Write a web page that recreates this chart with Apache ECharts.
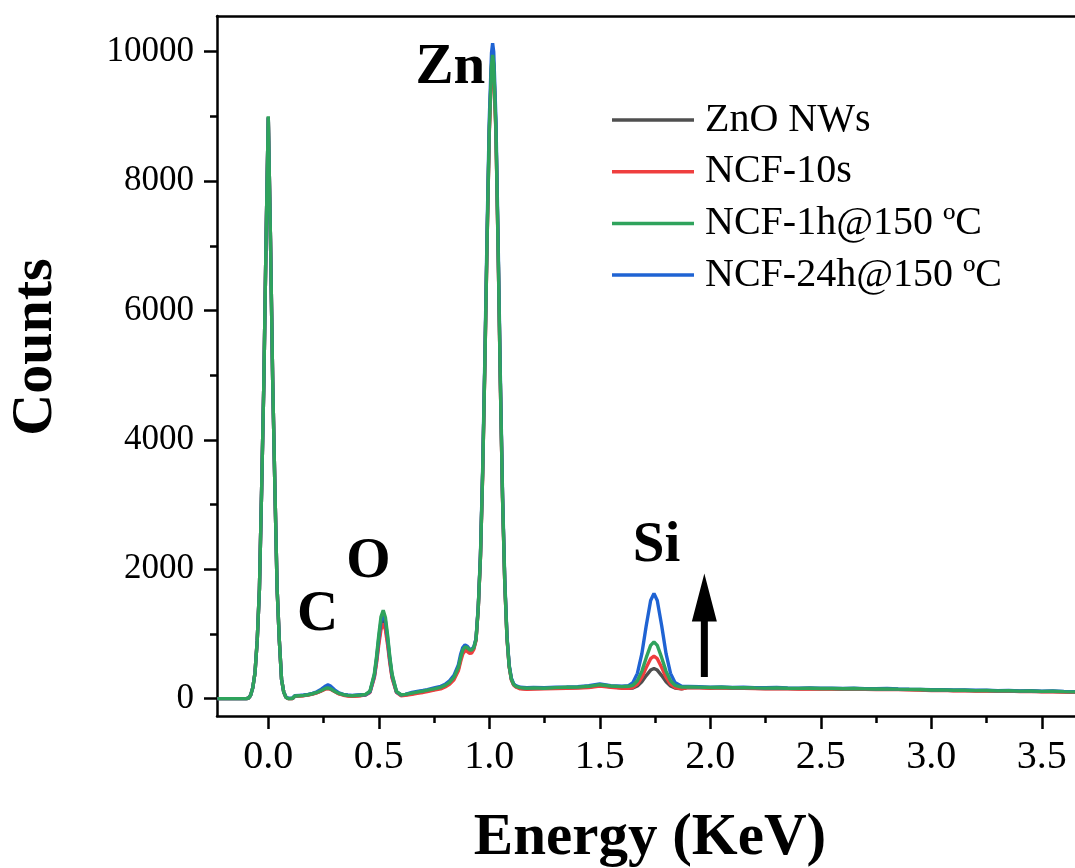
<!DOCTYPE html>
<html>
<head>
<meta charset="utf-8">
<script src="https://cdn.jsdelivr.net/npm/echarts@6/dist/echarts.min.js"></script>
<style>
html,body{margin:0;padding:0;background:#fff;}
#chart{width:1075px;height:868px;}
</style>
</head>
<body>
<div id="chart"></div>
<script>
// ---- data (energy in keV, counts) ----
const energy = [
  -0.23, -0.2, -0.15, -0.1, -0.09, -0.08, -0.07, -0.06, -0.05, -0.04, -0.03, -0.02, -0.01,
  0, 0.01, 0.02, 0.03, 0.04, 0.05, 0.06, 0.07, 0.08, 0.09, 0.1, 0.11,
  0.12, 0.14, 0.16, 0.18, 0.2, 0.22, 0.24, 0.26, 0.27, 0.28, 0.3, 0.32, 0.34, 0.36, 0.38, 0.4, 0.42,
  0.44, 0.46, 0.48, 0.49, 0.5, 0.51, 0.52, 0.53, 0.54, 0.55, 0.56, 0.58, 0.6, 0.62,
  0.65, 0.68, 0.7, 0.72, 0.75, 0.78, 0.8, 0.82, 0.84, 0.86, 0.87, 0.88, 0.89, 0.9, 0.91, 0.92, 0.93, 0.94,
  0.95, 0.96, 0.97, 0.98, 0.99, 1.0, 1.01, 1.015, 1.02, 1.03, 1.04, 1.05, 1.06, 1.07, 1.08, 1.09, 1.1, 1.11, 1.12,
  1.14, 1.17, 1.2, 1.25, 1.3, 1.35, 1.4, 1.45, 1.5, 1.55, 1.6, 1.63,
  1.65, 1.67, 1.69, 1.71, 1.73, 1.745, 1.76, 1.78, 1.8, 1.82, 1.84, 1.87,
  1.9, 1.95, 2.0, 2.05, 2.1, 2.15, 2.2, 2.25, 2.3, 2.35, 2.4, 2.45, 2.5, 2.55, 2.6, 2.65, 2.7, 2.75, 2.8,
  2.85, 2.9, 2.95, 3.0, 3.05, 3.1, 3.15, 3.2, 3.25, 3.3, 3.35, 3.4, 3.45, 3.5, 3.55, 3.6, 3.65, 3.7
];
const znoNWs = [
  0, 0, 0, 0, 5, 50, 170, 400, 900, 1700, 3250, 4900, 7100,
  8990, 7100, 4900, 3250, 1700, 900, 300, 100, 20, 0, 0, 0,
  38, 42, 48, 58, 72, 92, 120, 155, 160, 152, 112, 76, 56, 45, 40, 44, 50,
  58, 100, 345, 590, 885, 1135, 1230, 1130, 880, 585, 340, 100, 55, 60,
  75, 95, 105, 120, 140, 165, 195, 240, 315, 460, 610, 730, 780, 770, 735, 735, 780, 910,
  1395, 2190, 3480, 5180, 7070, 8770, 9770, 9920, 9790, 8770, 6930, 4880, 3090, 1790, 945, 495, 295, 215, 185,
  160, 152, 155, 158, 162, 165, 170, 180, 205, 182, 165, 160,
  164, 195, 261, 356, 441, 465, 441, 356, 261, 195, 164, 151,
  175, 170, 166, 168, 162, 165, 160, 156, 160, 154, 152, 156, 150, 152, 148, 150, 146, 143, 147,
  142, 138, 136, 128, 131, 124, 126, 120, 122, 116, 118, 112, 114, 108, 110, 104, 100, 98
];
const ncf10s = [
  0, 0, 0, 0, 5, 50, 170, 400, 900, 1700, 3250, 4900, 7100,
  8970, 7100, 4900, 3250, 1700, 900, 300, 100, 20, 0, 0, 0,
  35, 40, 45, 55, 70, 90, 118, 150, 155, 148, 108, 72, 52, 40, 35, 38, 45,
  55, 95, 325, 555, 835, 1070, 1160, 1065, 830, 550, 320, 95, 45, 50,
  65, 85, 95, 110, 130, 150, 180, 220, 290, 430, 570, 690, 740, 730, 700, 705, 760, 900,
  1390, 2180, 3470, 5160, 7050, 8740, 9730, 9880, 9750, 8740, 6900, 4860, 3080, 1780, 940, 490, 290, 210, 180,
  150, 145, 148, 150, 155, 160, 162, 172, 195, 175, 160, 158,
  172, 222, 327, 480, 617, 655, 617, 480, 327, 222, 172, 152,
  170, 166, 160, 165, 158, 161, 155, 150, 156, 150, 149, 152, 146, 149, 143, 147, 142, 139, 143,
  138, 135, 132, 125, 128, 121, 123, 117, 119, 113, 115, 109, 111, 105, 107, 101, 97, 95
];
const ncf1h150 = [
  0, 0, 0, 0, 5, 50, 170, 400, 900, 1700, 3250, 4900, 7100,
  9000, 7100, 4900, 3250, 1700, 900, 300, 100, 20, 0, 0, 5,
  40, 45, 50, 60, 75, 95, 125, 160, 165, 155, 115, 80, 60, 50, 45, 50, 55,
  65, 115, 385, 655, 985, 1265, 1365, 1255, 975, 645, 380, 110, 60, 65,
  85, 105, 115, 130, 150, 175, 205, 250, 330, 480, 630, 750, 800, 790, 755, 750, 790, 920,
  1400, 2200, 3500, 5200, 7100, 8800, 9800, 9950, 9820, 8800, 6950, 4900, 3100, 1800, 950, 500, 300, 220, 190,
  170, 160, 165, 160, 170, 175, 178, 190, 215, 195, 185, 190,
  206, 275, 421, 633, 822, 875, 822, 633, 421, 275, 206, 178,
  182, 178, 172, 175, 168, 170, 165, 162, 166, 160, 158, 161, 155, 157, 152, 155, 150, 148, 151,
  146, 142, 140, 132, 135, 128, 130, 124, 126, 120, 122, 116, 118, 112, 114, 108, 104, 102
];
const ncf24h150 = [
  0, 0, 0, 0, 5, 50, 170, 400, 900, 1700, 3250, 4900, 7100,
  8980, 7100, 4900, 3250, 1700, 900, 300, 100, 25, 5, 5, 10,
  45, 50, 55, 65, 82, 105, 145, 195, 212, 198, 135, 88, 65, 55, 50, 55, 60,
  60, 105, 360, 620, 935, 1200, 1300, 1195, 930, 615, 360, 105, 60, 65,
  95, 115, 125, 140, 165, 190, 220, 275, 360, 520, 680, 790, 830, 810, 770, 760, 800, 930,
  1420, 2230, 3560, 5290, 7230, 8960, 9980, 10130, 10000, 8960, 7070, 4990, 3160, 1840, 975, 520, 315, 230, 200,
  175, 168, 172, 170, 178, 180, 185, 198, 225, 200, 190, 200,
  248, 390, 691, 1127, 1517, 1625, 1517, 1127, 691, 390, 248, 191,
  188, 183, 178, 180, 172, 176, 170, 167, 171, 165, 162, 166, 160, 161, 156, 159, 154, 153, 155,
  150, 146, 143, 136, 139, 132, 133, 128, 130, 124, 125, 120, 121, 116, 117, 112, 108, 105
];
const seriesNames = ['ZnO NWs', 'NCF-10s', 'NCF-1h@150 \u00BAC', 'NCF-24h@150 \u00BAC'];
const xTicks = [0, 0.5, 1.0, 1.5, 2.0, 2.5, 3.0, 3.5];
const xMinorTicks = [0.25, 0.75, 1.25, 1.75, 2.25, 2.75, 3.25];
const yTicks = [0, 2000, 4000, 6000, 8000, 10000];
const yMinorTicks = [1000, 3000, 5000, 7000, 9000];
const peakLabels = ['C', 'O', 'Zn', 'Si'];
const peakLabelPos = [[0.223, 1290], [0.453, 2100], [0.824, 9750], [1.757, 2360]];
const arrowFrom = [1.973, 334];
const arrowTo = [1.973, 1933];

// ---- styling ----
const FONT = '"Liberation Serif", "Times New Roman", serif';
const colors = ['#4f4f4f', '#ef3e3e', '#2fa35c', '#1f63d3'];
const X_MIN = -0.232, X_MAX = 3.65, Y_MIN = -269, Y_MAX = 10552;

const chart = echarts.init(document.getElementById('chart'), null, {renderer: 'canvas'});

function pairs(arr) { return energy.map((e, i) => [e, arr[i]]); }
const allValues = [znoNWs, ncf10s, ncf1h150, ncf24h150];
const zOrder = [1, 2, 4, 3];

const axisLineStyle = {color: '#000', width: 2.5};
const baseX = {type: 'value', min: X_MIN, max: X_MAX, splitLine: {show: false}};
const baseY = {type: 'value', min: Y_MIN, max: Y_MAX, splitLine: {show: false}};

const option = {
  backgroundColor: '#fff',
  animation: false,
  grid: {left: 217, top: 16, right: 0, bottom: 152, containLabel: false},
  legend: {
    orient: 'vertical', left: 612, top: 100, padding: 0,
    data: seriesNames,
    icon: 'rect', itemWidth: 82, itemHeight: 3.5, itemGap: 11.7,
    textStyle: {fontFamily: FONT, fontSize: 40, color: '#000', lineHeight: 40, padding: [0, 0, 0, 6]}
  },
  xAxis: [
    Object.assign({}, baseX, {
      position: 'bottom',
      axisLine: {show: true, onZero: false, lineStyle: axisLineStyle},
      axisTick: {show: true, customValues: xTicks, length: 13, lineStyle: {color: '#000', width: 2.5}},
      axisLabel: {show: true, customValues: xTicks, margin: 21, fontFamily: FONT, fontSize: 40, color: '#000',
        formatter: v => Number(v).toFixed(1)}
    }),
    Object.assign({}, baseX, {
      position: 'bottom',
      axisLine: {show: false, onZero: false},
      axisTick: {show: true, customValues: xMinorTicks, length: 7, lineStyle: {color: '#000', width: 2.5}},
      axisLabel: {show: false}
    }),
    Object.assign({}, baseX, {
      position: 'top',
      axisLine: {show: true, onZero: false, lineStyle: axisLineStyle},
      axisTick: {show: false}, axisLabel: {show: false}
    })
  ],
  yAxis: [
    Object.assign({}, baseY, {
      position: 'left',
      axisLine: {show: true, onZero: false, lineStyle: axisLineStyle},
      axisTick: {show: true, customValues: yTicks, length: 13, lineStyle: {color: '#000', width: 2.5}},
      axisLabel: {show: true, customValues: yTicks, margin: 23, fontFamily: FONT, fontSize: 35, color: '#000',
        formatter: v => String(v)}
    }),
    Object.assign({}, baseY, {
      position: 'left',
      axisLine: {show: false, onZero: false},
      axisTick: {show: true, customValues: yMinorTicks, length: 7, lineStyle: {color: '#000', width: 2.5}},
      axisLabel: {show: false}
    })
  ],
  series: seriesNames.map((name, k) => ({
    name: name,
    type: 'line',
    xAxisIndex: 0, yAxisIndex: 0,
    data: pairs(allValues[k]),
    symbol: 'none', showSymbol: false,
    color: colors[k],
    lineStyle: {color: colors[k], width: 3.4},
    z: 2 + zOrder[k],
    clip: true
  }))
};
chart.setOption(option);

// ---- annotations placed in data coordinates ----
const toPx = p => chart.convertToPixel({xAxisIndex: 0, yAxisIndex: 0}, p);
const graphics = [];
peakLabels.forEach((t, i) => {
  const p = toPx(peakLabelPos[i]);
  graphics.push({
    type: 'text', x: p[0], y: p[1], z: 100,
    style: {text: t, fill: '#000', font: 'bold 57px ' + FONT, textAlign: 'center', textVerticalAlign: 'middle'}
  });
});
const a0 = toPx(arrowFrom), a1 = toPx(arrowTo);
const headLen = 48, headHalf = 12.5, shaftHalf = 3.5;
graphics.push({
  type: 'polygon', z: 100,
  shape: {points: [
    [a1[0], a1[1]],
    [a1[0] + headHalf, a1[1] + headLen],
    [a1[0] + shaftHalf, a1[1] + headLen],
    [a0[0] + shaftHalf, a0[1]],
    [a0[0] - shaftHalf, a0[1]],
    [a1[0] - shaftHalf, a1[1] + headLen],
    [a1[0] - headHalf, a1[1] + headLen]
  ]},
  style: {fill: '#000'}
});
// axis titles
graphics.push({
  type: 'text', x: 650, y: 839, z: 100,
  style: {text: 'Energy (KeV)', fill: '#000', font: 'bold 59px ' + FONT, textAlign: 'center', textVerticalAlign: 'middle'}
});
graphics.push({
  type: 'text', x: 36, y: 347, rotation: Math.PI / 2, z: 100,
  style: {text: 'Counts', fill: '#000', font: 'bold 58px ' + FONT, textAlign: 'center', textVerticalAlign: 'middle'}
});
chart.setOption({graphic: graphics});
</script>
</body>
</html>
